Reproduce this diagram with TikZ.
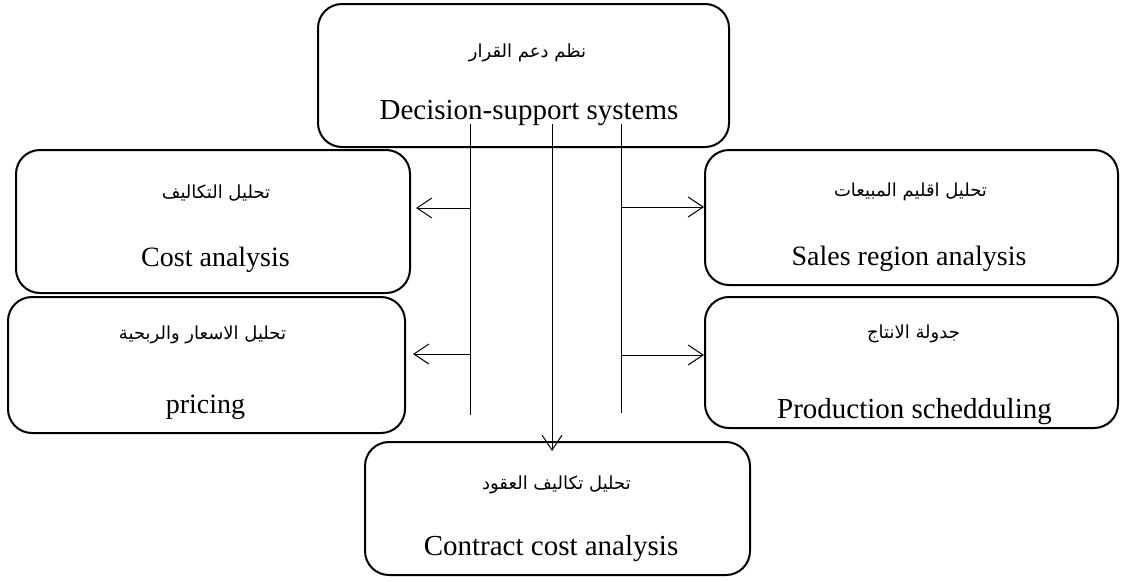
\documentclass[tikz,border=0pt]{standalone}
\usepackage{fontspec}
\setmainfont{Liberation Serif}
\newfontfamily\arabicfont[Script=Arabic]{DejaVu Sans}
\TeXXeTstate=1
\usetikzlibrary{arrows.meta}
\tikzset{
  box/.style={draw, line width=2pt, rounded corners=24pt, rectangle, inner sep=0pt},
  en/.style={anchor=base, inner sep=0pt, font=\fontsize{29}{34}\selectfont},
  ensm/.style={anchor=base, inner sep=0pt, font=\fontsize{28}{33}\selectfont},
  ar/.style={anchor=center, inner sep=0pt, font=\arabicfont\fontsize{18}{22}\selectfont},
  conn/.style={line width=1pt},
  arr/.style={line width=1pt, -{Straight Barb[length=15pt,width=20pt]}}
}
\begin{document}
\begin{tikzpicture}[x=1pt,y=-1pt]
\useasboundingbox (0,0) rectangle (1121,581);
% boxes
\node[box, minimum width=411pt, minimum height=143pt] (top) at (523.5,75.5) {};
\node[box, minimum width=394pt, minimum height=143pt] (cost) at (213,221.5) {};
\node[box, minimum width=413pt, minimum height=135pt] (sales) at (911.5,217.5) {};
\node[box, minimum width=397pt, minimum height=136pt] (pricing) at (206.5,365) {};
\node[box, minimum width=413pt, minimum height=131pt] (prod) at (911.5,362.5) {};
\node[box, minimum width=385pt, minimum height=133pt] (contract) at (557.5,508.5) {};
% texts
\node[ar] (topar) at (527.5,53) {\beginR نظم دعم القرار\endR};
\node[en] (topen) at (529,119) {Decision-support systems};
\node[ar] (costar) at (216,193) {\beginR تحليل التكاليف\endR};
\node[ensm] (costen) at (215.5,266) {Cost analysis};
\node[ar] (salesar) at (910.5,192) {\beginR تحليل اقليم المبيعات\endR};
\node[ensm] (salesen) at (909,265) {Sales region analysis};
\node[ar] (pricingar) at (202.5,335) {\beginR تحليل الاسعار والربحية\endR};
\node[ensm] (pricingen) at (205.5,413) {pricing};
\node[ar] (prodar) at (913.5,334) {\beginR جدولة الانتاج\endR};
\node[en] (proden) at (914.5,418) {Production schedduling};
\node[ar] (contractar) at (556.5,485) {\beginR تحليل تكاليف العقود\endR};
\node[en] (contracten) at (551,555) {Contract cost analysis};
% connector coordinates
\coordinate (ltop) at (470,124);
\coordinate (lbot) at (470,415);
\coordinate (rtop) at (621,124);
\coordinate (rbot) at (621,413);
\coordinate (ctop) at (552,124);
\coordinate (la1) at (470,208);
\coordinate (la2) at (470,354);
\coordinate (ra1) at (621,207);
\coordinate (ra2) at (621,355);
% connectors
\draw[conn] (ltop) -- (lbot);
\draw[conn] (rtop) -- (rbot);
\draw[arr, shorten >=-10pt] (ctop) -- (ctop |- contract.north);
\draw[arr, shorten >=5pt] (la1) -- (la1 -| cost.east);
\draw[arr, shorten >=7pt] (la2) -- (la2 -| pricing.east);
\draw[arr] (ra1) -- (ra1 -| sales.west);
\draw[arr] (ra2) -- (ra2 -| prod.west);
\end{tikzpicture}
\end{document}
